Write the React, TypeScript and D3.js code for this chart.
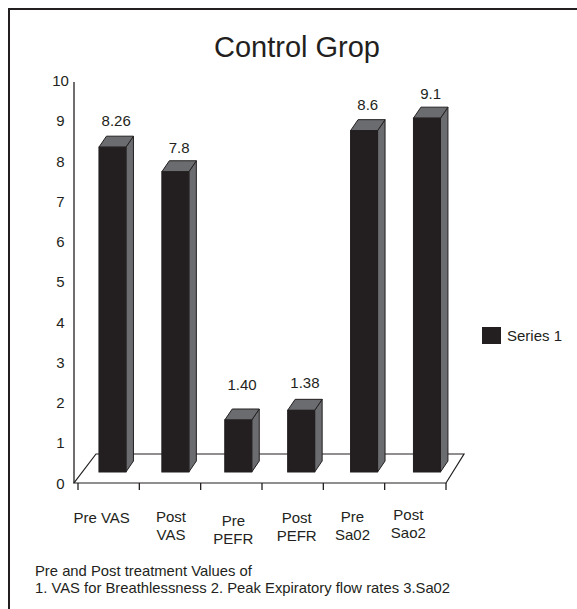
import React from "react";
import * as d3 from "d3";

const categories: string[][] = [
  ["Pre VAS"],
  ["Post", "VAS"],
  ["Pre", "PEFR"],
  ["Post", "PEFR"],
  ["Pre", "Sa02"],
  ["Post", "Sao2"],
];
const valueLabels = ["8.26", "7.8", "1.40", "1.38", "8.6", "9.1"];
// bar heights as drawn (in axis units)
const barHeights = [8.06, 7.45, 1.29, 1.53, 8.47, 8.78];
const yTicks = [0, 1, 2, 3, 4, 5, 6, 7, 8, 9, 10];
const seriesName = "Series 1";
const title = "Control Grop";
const footer = [
  "Pre and Post treatment Values of",
  "1. VAS for Breathlessness 2. Peak Expiratory flow rates 3.Sa02",
];

// small layout nudges for category and value labels
const labelDx = [-7, 1, 2, 4, -1.5, -7];
const labelDy = [0, -1, 3, 0, -1, -3];
const valueLabelDy = [0, 2, -9, -1, 0, 2];

const W = 577;
const H = 609;
const FONT = "'Liberation Sans', Arial, Helvetica, sans-serif";
const INK = "#231f20";
const GRAY = "#6b6c6f";

export default function App() {
  const ids = categories.map((_, i) => String(i));
  const yAxis = d3.scaleLinear().domain([0, 10]).range([483, 80.5]);
  const xAxis = d3.scaleBand().domain(ids).range([78, 446]);
  const xBar = d3.scaleBand().domain(ids).range([81, 458.4]);
  const barBase = 472;
  const yBar = d3.scaleLinear().domain([0, 10]).range([barBase, barBase - 403]);
  const axisX = 74;
  const floorDx = 22;
  const floorDy = -29;
  const barW = 27;
  const bdx = 7.5;
  const bdy = -11;
  const frontRight = xAxis.range()[1];
  const y0 = yAxis(0);

  const floorPath = d3.path();
  floorPath.moveTo(axisX, y0);
  floorPath.lineTo(frontRight, y0);
  floorPath.lineTo(frontRight + floorDx - 4, y0 + floorDy);
  floorPath.lineTo(axisX + floorDx, y0 + floorDy);
  floorPath.closePath();

  return (
    <svg
      width={W}
      height={H}
      style={{ position: "absolute", left: 0, top: 0, background: "#fff" }}
      fontFamily={FONT}
    >
      <rect x={0} y={0} width={W} height={H} fill="#fff" />
      <path d={`M9,${H} V9 H${W}`} fill="none" stroke={INK} strokeWidth={2} />

      <text x={297} y={57} textAnchor="middle" fontSize={29} fill={INK}>
        {title}
      </text>

      {/* floor */}
      <path d={floorPath.toString()} fill="#fff" stroke={INK} strokeWidth={1.2} />

      {/* y axis */}
      <line x1={axisX} x2={axisX} y1={yAxis(10) + 1.5} y2={y0} stroke={INK} strokeWidth={1.3} />
      {yTicks.map((t) => (
        <text key={t} x={60.5} y={yAxis(t) + 5.5} textAnchor="middle" fontSize={15} fill={INK}>
          {t}
        </text>
      ))}

      {/* x ticks */}
      {[...ids.map((id) => xAxis(id)!), frontRight].map((x, i) => (
        <line key={i} x1={x} x2={x} y1={y0} y2={y0 + 7} stroke={INK} strokeWidth={1.3} />
      ))}

      {/* bars */}
      {ids.map((id, i) => {
        const cx = xBar(id)! + xBar.bandwidth() / 2;
        const x = cx - barW / 2;
        const top = yBar(barHeights[i]);
        const bot = barBase;
        const top3 = `M${x},${top} L${x + bdx},${top + bdy} L${x + barW + bdx},${top + bdy} L${x + barW},${top} Z`;
        const side = `M${x + barW},${top} L${x + barW + bdx},${top + bdy} L${x + barW + bdx},${bot + bdy} L${x + barW},${bot} Z`;
        return (
          <g key={id}>
            <path d={side} fill={GRAY} stroke={INK} strokeWidth={1} strokeLinejoin="round" />
            <path d={top3} fill={GRAY} stroke={INK} strokeWidth={1} strokeLinejoin="round" />
            <rect x={x} y={top} width={barW} height={bot - top} fill={INK} stroke={INK} strokeWidth={1} />
            <text
              x={cx + bdx / 2}
              y={top + bdy - 10 + valueLabelDy[i]}
              textAnchor="middle"
              fontSize={15}
              fill={INK}
            >
              {valueLabels[i]}
            </text>
          </g>
        );
      })}

      {/* category labels */}
      {ids.map((id, i) => {
        const cx = xAxis(id)! + xAxis.bandwidth() / 2 + labelDx[i];
        return (
          <text key={id} textAnchor="middle" fontSize={15} fill={INK}>
            {categories[i].map((line, j) => (
              <tspan key={j} x={cx} y={523 + labelDy[i] + j * 18}>
                {line}
              </tspan>
            ))}
          </text>
        );
      })}

      {/* legend */}
      <rect x={482} y={327} width={19} height={17} fill={INK} />
      <text x={507} y={341} fontSize={15} fill={INK}>
        {seriesName}
      </text>

      {/* footer */}
      {footer.map((line, i) => (
        <text key={i} x={35} y={576 + i * 16.7} fontSize={14.8} fill={INK}>
          {line}
        </text>
      ))}
    </svg>
  );
}
